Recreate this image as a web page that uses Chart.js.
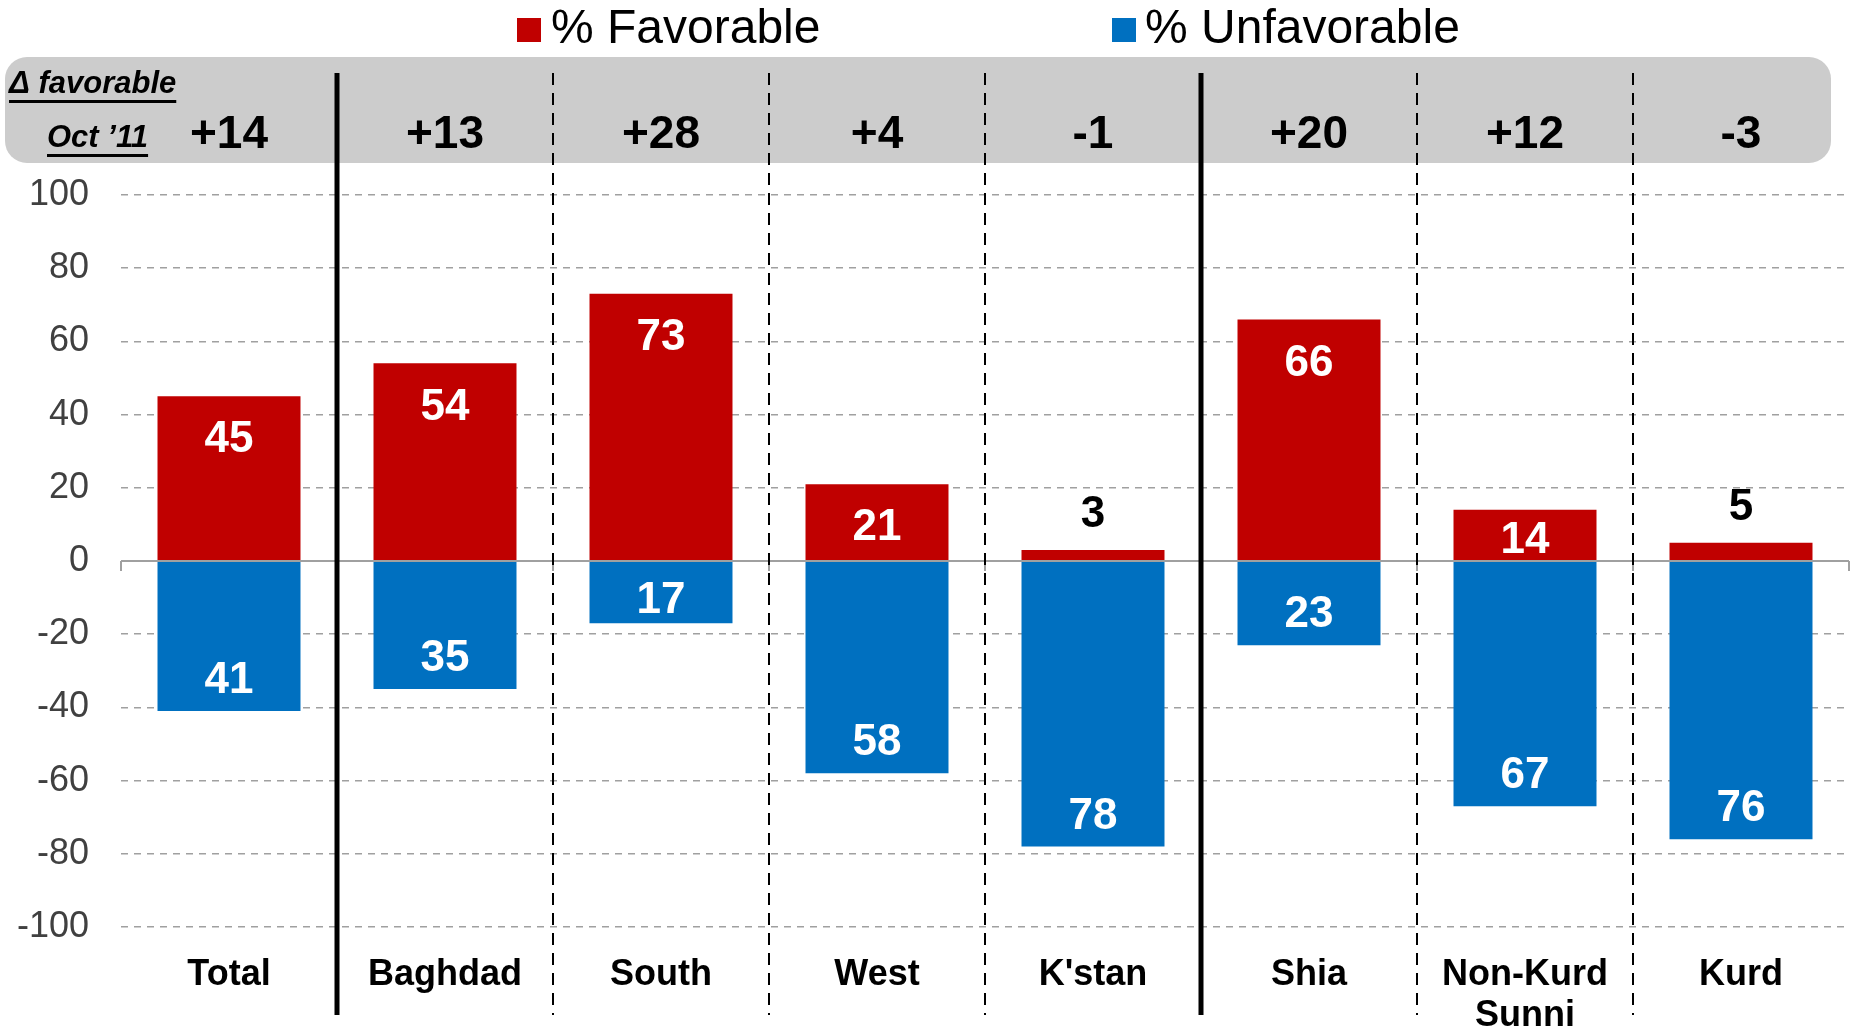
<!DOCTYPE html>
<html>
<head>
<meta charset="utf-8">
<script src="https://cdn.jsdelivr.net/npm/chart.js@4.4.0/dist/chart.umd.min.js"></script>
<style>
  html, body { margin: 0; padding: 0; background: #fff; }
</style>
</head>
<body>
<canvas id="bar-chart" width="1851" height="1029"></canvas>
<script>
var categories = ["Total", "Baghdad", "South", "West", "K'stan", "Shia", ["Non-Kurd", "Sunni"], "Kurd"];
var favorable = [45, 54, 73, 21, 3, 66, 14, 5];
var unfavorable = [-41, -35, -17, -58, -78, -23, -67, -76];
var deltaFavorable = ["+14", "+13", "+28", "+4", "-1", "+20", "+12", "-3"];
var yTicks = [100, 80, 60, 40, 20, 0, -20, -40, -60, -80, -100];
var solidDividers = [0, 4]; // after Total and after K'stan

var FONT = "'Liberation Sans', Arial, sans-serif";
Chart.defaults.font.family = FONT;

var decor = {
  id: 'decor',
  beforeDraw: function(chart) {
    var ctx = chart.ctx;
    ctx.save();
    // grey header band
    ctx.fillStyle = '#cccccc';
    ctx.beginPath();
    ctx.roundRect(5, 57, 1826, 106, 22);
    ctx.fill();

    // legend
    ctx.textBaseline = 'middle';
    ctx.textAlign = 'left';
    ctx.font = '48px ' + FONT;
    ctx.fillStyle = '#c00000';
    ctx.fillRect(517, 18, 24, 24);
    ctx.fillStyle = '#000';
    ctx.fillText('% Favorable', 551, 30);
    ctx.fillStyle = '#0070c0';
    ctx.fillRect(1112, 18, 24, 24);
    ctx.fillStyle = '#000';
    ctx.fillText('% Unfavorable', 1145, 30);

    // header captions
    ctx.font = 'italic bold 31px ' + FONT;
    ctx.fillText('\u0394 favorable', 9, 84);
    var w1 = ctx.measureText('\u0394 favorable').width;
    ctx.fillRect(9, 100, w1, 3);
    ctx.fillText('Oct \u201911', 47, 138);
    var w2 = ctx.measureText('Oct \u201911').width;
    ctx.fillRect(47, 154, w2, 3);
    ctx.restore();
  },
  afterDatasetsDraw: function(chart) {
    var ctx = chart.ctx;
    var xs = chart.scales.x, ys = chart.scales.y;
    var zero = ys.getPixelForValue(0);
    ctx.save();
    ctx.strokeStyle = '#a0a0a0';
    ctx.lineWidth = 2;
    ctx.beginPath();
    ctx.moveTo(chart.chartArea.left, zero);
    ctx.lineTo(chart.chartArea.right, zero);
    for (var i = 0; i <= categories.length; i++) {
      var bx = i === 0 ? chart.chartArea.left : (i === categories.length ? chart.chartArea.right :
        (xs.getPixelForValue(i - 1) + xs.getPixelForValue(i)) / 2);
      ctx.moveTo(bx, zero);
      ctx.lineTo(bx, zero + 10);
    }
    ctx.stroke();

    // data labels
    ctx.font = 'bold 44px ' + FONT;
    ctx.textAlign = 'center';
    ctx.textBaseline = 'middle';
    chart.getDatasetMeta(0).data.forEach(function(el, i) {
      var v = favorable[i];
      if (v < 10) {
        ctx.fillStyle = '#000';
        ctx.fillText(v, el.x, el.y - 35);
      } else {
        ctx.fillStyle = '#fff';
        ctx.fillText(v, el.x, Math.min(el.y + 44, zero - 20));
      }
    });
    chart.getDatasetMeta(1).data.forEach(function(el, i) {
      ctx.fillStyle = '#fff';
      ctx.fillText(Math.abs(unfavorable[i]), el.x, Math.max(el.y - 30, zero + 40));
    });
    ctx.restore();
  },
  afterDraw: function(chart) {
    var ctx = chart.ctx;
    var xs = chart.scales.x;
    ctx.save();
    // dividers between groups
    ctx.strokeStyle = '#000';
    for (var i = 0; i < categories.length - 1; i++) {
      var x = (xs.getPixelForValue(i) + xs.getPixelForValue(i + 1)) / 2;
      ctx.beginPath();
      if (solidDividers.indexOf(i) >= 0) {
        ctx.lineWidth = 5;
        ctx.setLineDash([]);
      } else {
        ctx.lineWidth = 2;
        ctx.setLineDash([12, 8]);
      }
      ctx.moveTo(x, 73);
      ctx.lineTo(x, 1015);
      ctx.stroke();
    }
    // change in favorable
    ctx.setLineDash([]);
    ctx.fillStyle = '#000';
    ctx.font = 'bold 46px ' + FONT;
    ctx.textAlign = 'center';
    ctx.textBaseline = 'middle';
    deltaFavorable.forEach(function(d, i) {
      ctx.fillText(d, xs.getPixelForValue(i), 135);
    });
    ctx.restore();
  }
};

new Chart(document.getElementById("bar-chart"), {
  type: "bar",
  data: {
    labels: categories,
    datasets: [{
      label: "% Favorable",
      backgroundColor: "#c00000",
      data: favorable
    }, {
      label: "% Unfavorable",
      backgroundColor: "#0070c0",
      data: unfavorable
    }]
  },
  plugins: [decor],
  options: {
    responsive: false,
    animation: false,
    barPercentage: 0.662,
    categoryPercentage: 1,
    layout: {
      padding: { top: 195, right: 2, bottom: 0, left: 0 }
    },
    plugins: {
      legend: { display: false },
      tooltip: { enabled: false }
    },
    scales: {
      x: {
        stacked: true,
        grid: { display: false },
        border: { display: false },
        ticks: {
          color: '#000',
          font: { size: 36, weight: 'bold', lineHeight: 1.15 },
          padding: 19,
          maxRotation: 0,
          autoSkip: false
        },
        afterFit: function(scale) { scale.height = 102; }
      },
      y: {
        stacked: true,
        min: -100,
        max: 100,
        afterBuildTicks: function(axis) {
          axis.ticks = yTicks.map(function(v) { return { value: v }; });
        },
        grid: { color: '#a0a0a0', lineWidth: 1.5, drawTicks: false },
        border: { display: false, dash: [7, 6] },
        ticks: {
          color: '#404040',
          font: { size: 36 },
          padding: 32
        },
        afterFit: function(scale) { scale.width = 121; }
      }
    }
  }
});
</script>
</body>
</html>
